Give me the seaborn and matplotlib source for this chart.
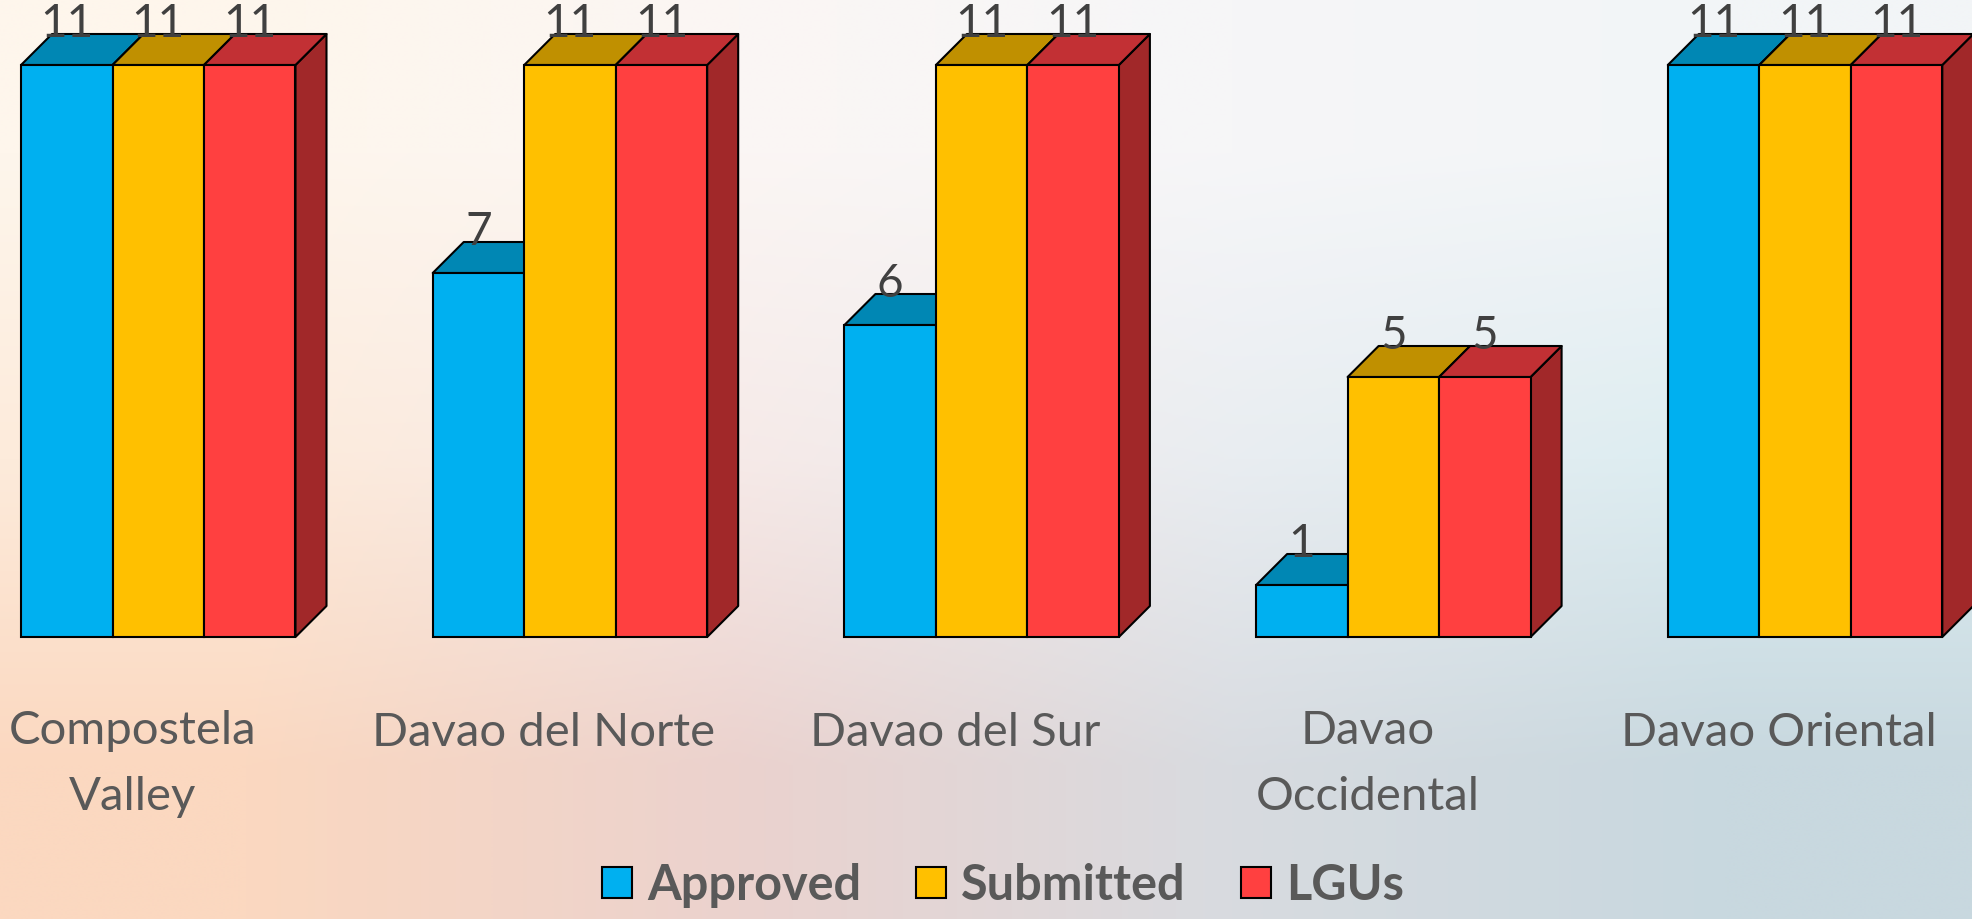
import numpy as np
import pandas as pd
import matplotlib
matplotlib.use('Agg')
import matplotlib.pyplot as plt
import matplotlib.colors as mcolors
from matplotlib.patches import Polygon, Patch
import seaborn as sns

# ---- data ----
provinces = ['Compostela\nValley', 'Davao del Norte', 'Davao del Sur',
             'Davao\nOccidental', 'Davao Oriental']
series = ['Approved', 'Submitted', 'LGUs']
approved = [11, 7, 6, 1, 11]
submitted = [11, 11, 11, 5, 11]
lgus = [11, 11, 11, 5, 11]

front_colors = ['#00B0F0', '#FFC000', '#FF4040']
top_colors = ['#0087B4', '#C09000', '#C23034']
side_colors = ['#006A90', '#A07800', '#A12829']

sns.set_theme(style='white')
plt.rcParams['font.family'] = ['Lato', 'DejaVu Sans']

df = pd.DataFrame({
    'Province': provinces * 3,
    'Series': np.repeat(series, len(provinces)),
    'Value': approved + submitted + lgus,
})

W, H = 1972, 919
fig = plt.figure(figsize=(W / 100, H / 100), dpi=100)

# background gradient
bg = fig.add_axes([0, 0, 1, 1])
bg.axis('off')
rows = [
    ['#FEF6EC', '#FBF6F4', '#F6F6F8', '#F2F5F7'],
    ['#FDEBDB', '#F6EAE8', '#E9EDF1', '#DCEDF1'],
    ['#FBD8C0', '#EBD2CE', '#D8DBE0', '#C8D8DF'],
]
grid = np.array([[mcolors.to_rgb(c) for c in r] for r in rows])
bg.imshow(grid, extent=(0, 1, 0, 1), aspect='auto', interpolation='bilinear')
bg.set_xlim(0, 1)
bg.set_ylim(0, 1)

ax = fig.add_axes([0, 0, 1, 1])
ax.patch.set_alpha(0)
sns.barplot(data=df, x='Province', y='Value', hue='Series', order=provinces,
            hue_order=series, palette=dict(zip(series, front_colors)),
            width=2 / 3, saturation=1, edgecolor='black', linewidth=1.5,
            errorbar=None, legend=False, ax=ax)
xmin, xmax = -0.3844, 4.4055
ymin, ymax = -5.423, 12.25
ax.set_xlim(xmin, xmax)
ax.set_ylim(ymin, ymax)
ax.axis('off')

sx = W / (xmax - xmin)
sy = H / (ymax - ymin)
dx = 31 / sx
dy = 31 / sy

front_rgba = [mcolors.to_rgba(c) for c in front_colors]
for rect in list(ax.patches):
    fc = rect.get_facecolor()
    k = int(np.argmin([sum((a - b) ** 2 for a, b in zip(fc[:3], c[:3])) for c in front_rgba]))
    x0, w, h = rect.get_x(), rect.get_width(), rect.get_height()
    rect.set_zorder(3 + 2 * k)
    top = Polygon([(x0, h), (x0 + w, h), (x0 + w + dx, h + dy), (x0 + dx, h + dy)],
                  closed=True, facecolor=top_colors[k], edgecolor='black',
                  linewidth=1.5, zorder=2 + 2 * k, joinstyle='round')
    side = Polygon([(x0 + w, 0), (x0 + w + dx, dy), (x0 + w + dx, h + dy), (x0 + w, h)],
                   closed=True, facecolor=side_colors[k], edgecolor='black',
                   linewidth=1.5, zorder=2 + 2 * k, joinstyle='round')
    ax.add_patch(side)
    ax.add_patch(top)
    ax.annotate(f'{h:g}', xy=(x0 + w / 2, h), xytext=(0, 28),
                textcoords='offset pixels', ha='center', va='baseline',
                fontsize=33, color='#404040', zorder=30)

for i, p in enumerate(provinces):
    nlines = p.count('\n') + 1
    ax.annotate(p, xy=(i, 0), xytext=(-26, -109 - 64 * (nlines - 1)),
                textcoords='offset pixels',
                ha='center', va='baseline', multialignment='center',
                fontsize=34, color='#595959', linespacing=1.72, zorder=30)

handles = [Patch(facecolor=c, edgecolor='black', linewidth=1.5) for c in front_colors]
fig.legend(handles, series, loc='center', bbox_to_anchor=(1003 / W, 1 - 885 / H),
           ncol=3, frameon=False,
           prop={'family': 'Lato', 'weight': 'bold', 'size': 35},
           handlelength=0.62, handleheight=0.62, handletextpad=0.31,
           columnspacing=1.13, labelcolor='#595959', borderaxespad=0, borderpad=0)

fig.savefig('out.png', dpi=100)
